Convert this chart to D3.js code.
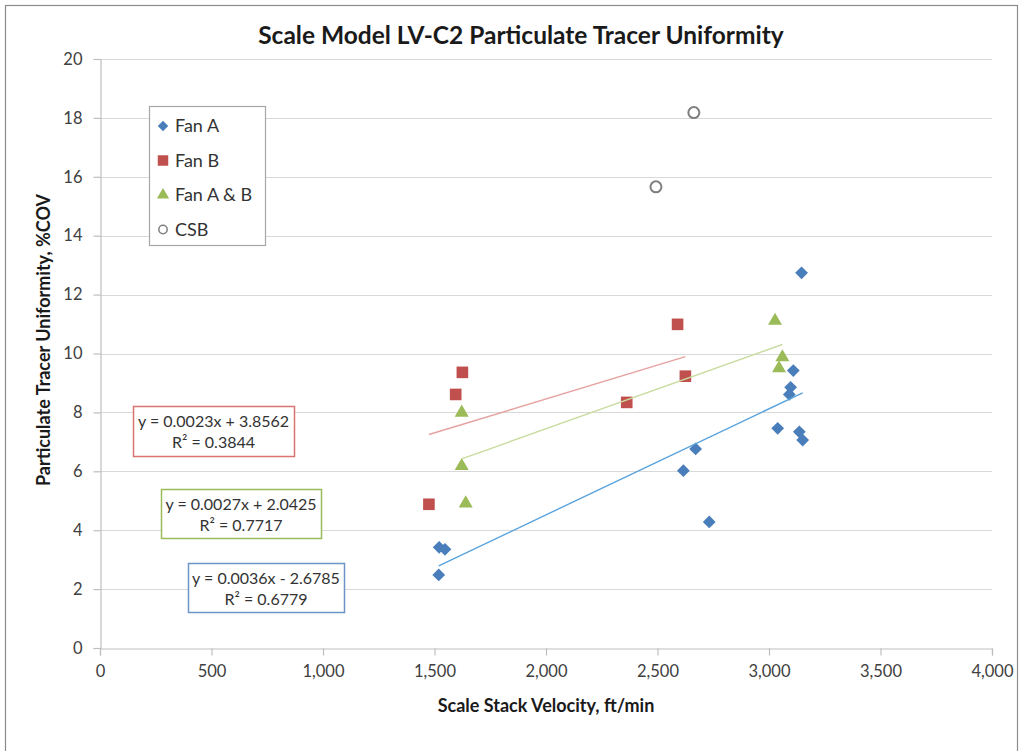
<!DOCTYPE html>
<html>
<head>
<meta charset="utf-8">
<script src="https://cdn.jsdelivr.net/npm/d3@7"></script>
<style>
  body { margin: 0; background: #fff; }
  svg text { font-family: Lato, "Open Sans", sans-serif; }
</style>
</head>
<body>
<div id="chart"></div>
<script>
// series data, velocity (ft/min) vs %COV
var fanAx = [1521, 1547, 1519, 2616, 2671, 2732, 3039, 3109, 3097, 3091, 3136, 3151, 3146];
var fanAy = [3.42, 3.35, 2.48, 6.02, 6.76, 4.28, 7.46, 9.42, 8.85, 8.61, 7.34, 7.06, 12.74];
var fanBx = [1475, 1595, 1625, 2362, 2590, 2625];
var fanBy = [4.88, 8.61, 9.36, 8.34, 10.99, 9.23];
var fanABx = [1622, 1622, 1640, 3027, 3060, 3045];
var fanABy = [7.99, 6.18, 4.91, 11.11, 9.87, 9.50];
var csbX = [2493, 2663];
var csbY = [15.66, 18.18];

var seriesNames = ["Fan A", "Fan B", "Fan A & B", "CSB"];
// trendline equations as printed on the chart: [slope, intercept, r2]
var fitA = [0.0036, -2.6785, 0.6779];
var fitB = [0.0023, 3.8562, 0.3844];
var fitAB = [0.0027, 2.0425, 0.7717];

var xTicks = [0, 500, 1000, 1500, 2000, 2500, 3000, 3500, 4000];
var yTicks = [0, 2, 4, 6, 8, 10, 12, 14, 16, 18, 20];

var W = 1028, H = 751;
var margin = {top: 59, right: 36, bottom: 103, left: 100},
  width = 992 - margin.left,
  height = 648 - margin.top;

var x = d3.scaleLinear().domain([0, 4000]).range([0, width]);
var y = d3.scaleLinear().domain([0, 20]).range([height, 0]);

var svg = d3.select("#chart").append("svg")
  .attr("width", W)
  .attr("height", H);

// outer chart frame
svg.append("rect")
  .attr("x", 5.5).attr("y", 5.5)
  .attr("width", 1012).attr("height", 780)
  .attr("fill", "none")
  .attr("stroke", "#8c8c8c")
  .attr("stroke-width", 1.2);

svg.append("text")
  .attr("x", 521).attr("y", 44)
  .attr("text-anchor", "middle")
  .attr("font-size", 24.5)
  .attr("font-weight", "bold")
  .attr("fill", "#1a1a1a")
  .text("Scale Model LV-C2 Particulate Tracer Uniformity");

var g = svg.append("g")
  .attr("transform", "translate(" + margin.left + "," + margin.top + ")");

// gridlines
g.selectAll(".grid")
  .data(yTicks.slice(1))
  .enter().append("line")
  .attr("x1", 0).attr("x2", width)
  .attr("y1", d => Math.round(y(d)) + 0.5).attr("y2", d => Math.round(y(d)) + 0.5)
  .attr("stroke", "#d9d9d9")
  .attr("stroke-width", 1.2);

// axes
var xAxis = g.append("g")
  .attr("transform", "translate(0," + (height + 0.5) + ")")
  .call(d3.axisBottom(x).tickValues(xTicks).tickSize(7).tickPadding(10)
    .tickFormat(d3.format(",")));
var yAxis = g.append("g")
  .attr("transform", "translate(0.5,0)")
  .call(d3.axisLeft(y).tickValues(yTicks).tickSize(7).tickPadding(11));

[xAxis, yAxis].forEach(ax => {
  ax.select(".domain").attr("stroke", "#bfbfbf").attr("stroke-width", 1.2);
  ax.selectAll(".tick line").attr("stroke", "#bfbfbf").attr("stroke-width", 1.2);
  ax.selectAll(".tick text")
    .attr("font-family", "Lato, sans-serif")
    .attr("font-size", 16.5)
    .attr("fill", "#404040");
});

svg.append("text")
  .attr("x", 546).attr("y", 712)
  .attr("text-anchor", "middle")
  .attr("font-size", 18)
  .attr("font-weight", "bold")
  .attr("fill", "#1a1a1a")
  .text("Scale Stack Velocity, ft/min");

svg.append("text")
  .attr("transform", "translate(50,340) rotate(-90)")
  .attr("text-anchor", "middle")
  .attr("font-size", 18)
  .attr("font-weight", "bold")
  .attr("fill", "#1a1a1a")
  .text("Particulate Tracer Uniformity, %COV");

var blue = "#4a7ebb", red = "#c0504d", green = "#9bbb59";

// trendlines from the printed equations, over each series x range
function trend(xs, fit, color) {
  var lo = d3.min(xs), hi = d3.max(xs);
  g.append("line")
    .attr("x1", x(lo)).attr("y1", y(fit[0] * lo + fit[1]))
    .attr("x2", x(hi)).attr("y2", y(fit[0] * hi + fit[1]))
    .attr("stroke", color)
    .attr("stroke-width", 1.4);
}

var pts = (xs, ys) => xs.map((v, i) => ({x: v, y: ys[i]}));

function markers(data, shape, size, fill, stroke, rot) {
  g.selectAll(null)
    .data(data)
    .enter().append("path")
    .attr("d", d3.symbol().type(shape).size(size))
    .attr("transform", d => "translate(" + x(d.x) + "," + y(d.y) + ") rotate(" + rot + ")")
    .attr("fill", fill)
    .attr("stroke", stroke)
    .attr("stroke-width", stroke == "none" ? 0 : 2);
}

markers(pts(fanBx, fanBy), d3.symbolSquare, 135, red, "none", 0);
markers(pts(fanABx, fanABy), d3.symbolTriangle, 85, green, "none", 0);
markers(pts(fanAx, fanAy), d3.symbolSquare, 82, blue, "none", 45);
markers(pts(csbX, csbY), d3.symbolCircle, 95, "#fff", "#7f7f7f", 0);

trend(fanBx, fitB, "#e6a2a0");
trend(fanABx, fitAB, "#c9dc9f");
trend(fanAx, fitA, "#5aa3dc");

// legend
var leg = svg.append("g");
leg.append("rect")
  .attr("x", 149.5).attr("y", 106.5)
  .attr("width", 116).attr("height", 139)
  .attr("fill", "#fff")
  .attr("stroke", "#a6a6a6")
  .attr("stroke-width", 1.2);
var legShapes = [
  [d3.symbolSquare, 55, blue, "none", 45],
  [d3.symbolSquare, 110, red, "none", 0],
  [d3.symbolTriangle, 65, green, "none", 0],
  [d3.symbolCircle, 55, "#fff", "#7f7f7f", 0]
];
seriesNames.forEach((name, i) => {
  var cy = 126 + i * 34.5;
  var s = legShapes[i];
  leg.append("path")
    .attr("d", d3.symbol().type(s[0]).size(s[1]))
    .attr("transform", "translate(163," + cy + ") rotate(" + s[4] + ")")
    .attr("fill", s[2])
    .attr("stroke", s[3])
    .attr("stroke-width", s[3] == "none" ? 0 : 1.5);
  leg.append("text")
    .attr("x", 175).attr("y", cy + 6)
    .attr("font-size", 18)
    .attr("fill", "#333")
    .text(name);
});

// equation labels
function eqBox(fit, bx, by, bw, bh, color) {
  var b = svg.append("g");
  b.append("rect")
    .attr("x", bx + 0.5).attr("y", by + 0.5)
    .attr("width", bw).attr("height", bh)
    .attr("fill", "#fff")
    .attr("stroke", color)
    .attr("stroke-width", 1.5);
  var sign = fit[1] < 0 ? " - " : " + ";
  b.append("text")
    .attr("x", bx + bw / 2).attr("y", by + 21)
    .attr("text-anchor", "middle")
    .attr("font-size", 16)
    .attr("fill", "#333")
    .text("y = " + fit[0].toFixed(4) + "x" + sign + Math.abs(fit[1]).toFixed(4));
  b.append("text")
    .attr("x", bx + bw / 2).attr("y", by + 42)
    .attr("text-anchor", "middle")
    .attr("font-size", 16)
    .attr("fill", "#333")
    .text("R\u00b2 = " + fit[2].toFixed(4));
}
eqBox(fitB, 133, 406, 161, 50, "#d9736f");
eqBox(fitAB, 161, 489, 160, 49, green);
eqBox(fitA, 188, 563, 156, 49, "#6d95c8");
</script>
</body>
</html>
